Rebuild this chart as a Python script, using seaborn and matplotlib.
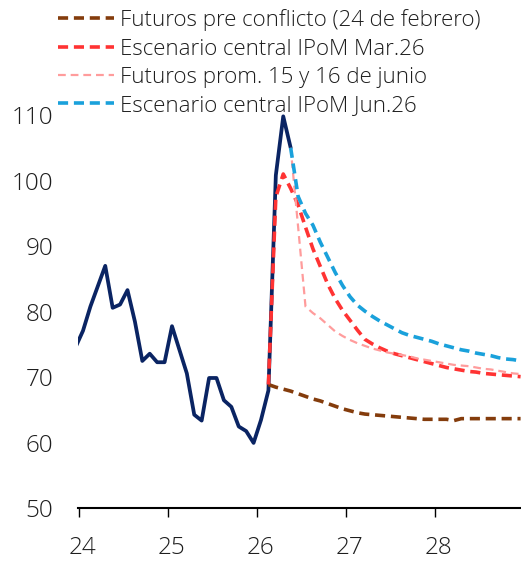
import numpy as np
import pandas as pd
import matplotlib
matplotlib.use("Agg")
import matplotlib.pyplot as plt
import matplotlib.transforms as mtransforms
import seaborn as sns

# Monthly series (mid-month observations), values in the chart's units
hist_start = "2023-12"
hist_values = [74.6, 77.1, 80.8, 83.9, 87.0, 80.6, 81.1, 83.3, 78.5, 72.5,
               73.6, 72.3, 72.3, 77.8, 74.2, 70.6, 64.3, 63.4, 69.9, 69.9,
               66.5, 65.5, 62.5, 61.8, 60.0, 63.5, 68.0, 100.8, 109.8, 105.0]

pre_start = "2026-02"
pre_values = [68.9, 68.5, 68.2, 67.9, 67.5, 67.1, 66.7, 66.4, 66.0, 65.6,
              65.2, 64.9, 64.6, 64.4, 64.3, 64.2, 64.1, 64.0, 63.9, 63.8,
              63.7, 63.6, 63.6, 63.6, 63.6, 63.4, 63.7, 63.7, 63.7, 63.7,
              63.7, 63.7, 63.7, 63.7, 63.7]

mar_start = "2026-02"
mar_values = [68.9, 97.5, 101.0, 98.8, 96.3, 92.9, 89.6, 86.9, 84.2, 82.0,
              80.2, 78.7, 77.2, 75.8, 75.1, 74.5, 74.0, 73.6, 73.3, 73.0,
              72.7, 72.4, 72.1, 71.8, 71.5, 71.3, 71.1, 70.9, 70.8, 70.6,
              70.5, 70.4, 70.3, 70.2, 70.1]

jun_fut_start = "2026-05"
jun_fut_values = [105.0, 93.0, 80.8, 79.8, 79.0, 78.0, 77.0, 76.3, 75.7, 75.2,
                  74.8, 74.4, 74.1, 73.8, 73.6, 73.4, 73.2, 72.9, 72.7, 72.5,
                  72.3, 72.1, 71.9, 71.8, 71.7, 71.5, 71.3, 71.2, 71.0, 70.8,
                  70.6, 70.5]

jun_start = "2026-05"
jun_values = [105.0, 97.6, 95.0, 93.2, 90.6, 88.3, 86.0, 84.0, 82.3, 81.0,
              80.1, 79.3, 78.6, 78.0, 77.4, 76.8, 76.4, 76.1, 75.8, 75.5,
              75.1, 74.8, 74.5, 74.2, 74.0, 73.7, 73.5, 73.3, 73.0, 72.8,
              72.7, 72.5]

series_labels = ["Futuros pre conflicto (24 de febrero)",
                 "Escenario central IPoM Mar.26",
                 "Futuros prom. 15 y 16 de junio",
                 "Escenario central IPoM Jun.26"]

year_ticks = [24, 25, 26, 27, 28]
year_labels = ["24", "25", "26", "27", "28"]
y_ticks = [50, 60, 70, 80, 90, 100, 110]


def to_frame(start, values, name):
    dates = pd.date_range(start=start, periods=len(values), freq="MS")
    x = dates.year - 2000 + (dates.month - 0.5) / 12.0
    return pd.DataFrame({"t": x, "v": values, "serie": name})


sns.set_theme(style="white")
plt.rcParams["font.family"] = ["Open Sans", "DejaVu Sans"]
plt.rcParams["font.weight"] = "light"
text_color = "#1e1e1e"

fig = plt.figure(figsize=(5.21, 5.61), dpi=100)
ax = fig.add_axes([0.1503, 0.0936, 0.8497, 0.7248])

hist = to_frame(hist_start, hist_values, "hist")
pre = to_frame(pre_start, pre_values, series_labels[0])
mar = to_frame(mar_start, mar_values, series_labels[1])
jfut = to_frame(jun_fut_start, jun_fut_values, series_labels[2])
jun = to_frame(jun_start, jun_values, series_labels[3])

sns.lineplot(data=hist, x="t", y="v", ax=ax, color="#0A2463", lw=2.7,
             legend=False, zorder=2)
styles = [
    (pre, "#843C0C", 2.6, (2.8, 1.6)),
    (mar, "#FF3333", 2.6, (2.8, 1.6)),
    (jfut, "#FF9C9C", 1.6, (3.5, 2.2)),
    (jun, "#1AA1DB", 2.6, (2.8, 1.6)),
]
handles = []
for i, (df, col, lw, dash) in enumerate(styles):
    sns.lineplot(data=df, x="t", y="v", ax=ax, color=col, lw=lw,
                 legend=False, zorder=3 + i)
    line = ax.get_lines()[-1]
    line.set_dashes(dash)
    line.set_dash_capstyle("butt")
    handles.append(line)

ax.set_xlim(23.989, 28.963)
ax.set_ylim(50, 112)
ax.set_xticks(year_ticks)
ax.set_xticklabels(year_labels)
ax.set_yticks(y_ticks)
ax.set_xlabel("")
ax.set_ylabel("")

for s in ["left", "right", "top"]:
    ax.spines[s].set_visible(False)
ax.spines["bottom"].set_color("black")
ax.spines["bottom"].set_linewidth(1.5)

ax.tick_params(axis="x", direction="out", length=6.5, width=1.0,
               color="black", bottom=True, pad=13, labelsize=17.5,
               labelcolor=text_color)
ax.tick_params(axis="y", length=0, pad=18, labelsize=17.5,
               labelcolor=text_color)

# nudge year labels slightly to the right of their ticks
shift = mtransforms.ScaledTranslation(3 / 100, 0, fig.dpi_scale_trans)
for lab in ax.get_xticklabels():
    lab.set_transform(lab.get_transform() + shift)

leg = fig.legend(handles, series_labels, loc="upper left",
                 bbox_to_anchor=(0.107, 0.9875), frameon=False,
                 fontsize=16, handlelength=2.5, handletextpad=0.3,
                 labelspacing=0.33, borderpad=0.1, borderaxespad=0)
for t in leg.get_texts():
    t.set_color(text_color)

fig.savefig("out.png", dpi=100)
